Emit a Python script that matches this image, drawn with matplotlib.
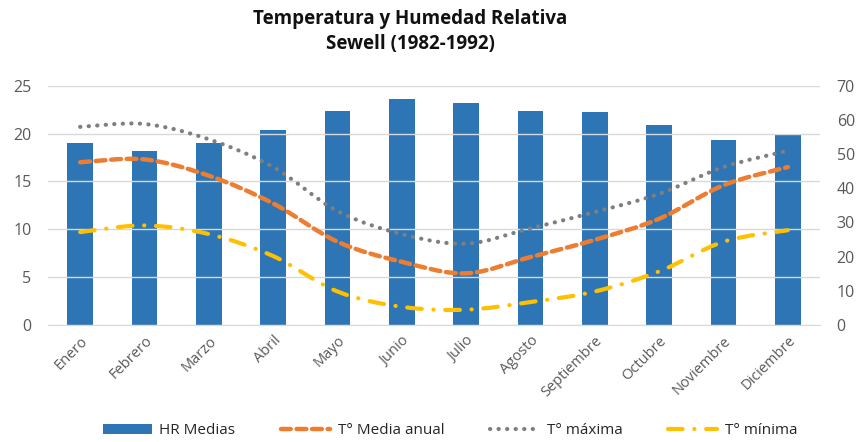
import matplotlib
matplotlib.use("Agg")
import matplotlib.pyplot as plt
import numpy as np
from matplotlib.path import Path
from matplotlib.patches import PathPatch, Patch
from matplotlib.lines import Line2D

meses = ["Enero", "Febrero", "Marzo", "Abril", "Mayo", "Junio", "Julio",
         "Agosto", "Septiembre", "Octubre", "Noviembre", "Diciembre"]
hr_medias = [53.2, 50.9, 53.2, 57.0, 62.6, 66.0, 64.8, 62.6, 62.2, 58.5, 54.2, 55.5]
t_media = [17.0, 17.3, 15.6, 12.7, 8.7, 6.6, 5.4, 7.1, 8.9, 11.1, 14.6, 16.5]
t_max = [20.7, 21.0, 19.4, 16.5, 11.9, 9.5, 8.5, 10.1, 11.8, 13.7, 16.5, 18.2]
t_min = [9.7, 10.4, 9.5, 7.2, 3.5, 1.9, 1.6, 2.4, 3.5, 5.6, 8.7, 9.9]

plt.rcParams['font.family'] = ['Open Sans', 'DejaVu Sans']

BLUE = "#2E75B6"
ORANGE = "#ED7D31"
GRAY = "#7F7F7F"
YELLOW = "#FFC000"
TXT = "#595959"

fig = plt.figure(figsize=(8.56, 4.42), dpi=100)
ax = fig.add_axes([48/856, 1-325/442, (820-48)/856, (325-85.7)/442])
ax2 = ax.twinx()

x = np.arange(len(meses))

# bars on secondary axis
ax2.bar(x, hr_medias, width=0.4, color=BLUE, zorder=2)
ax2.set_ylim(0, 70)
ax2.set_yticks(range(0, 71, 10))

ax.set_ylim(0, 25)
ax.set_yticks(range(0, 26, 5))
ax.set_xlim(-0.5, 11.5)

# gridlines
ax.yaxis.grid(True, color="#D9D9D9", linewidth=1)
ax.set_axisbelow(True)

def smooth_path(xs, ys):
    pts = np.column_stack([xs, ys]).astype(float)
    n = len(pts)
    verts = [pts[0]]
    codes = [Path.MOVETO]
    for i in range(n - 1):
        p0 = pts[i - 1] if i > 0 else pts[i]
        p1 = pts[i]
        p2 = pts[i + 1]
        p3 = pts[i + 2] if i + 2 < n else pts[i + 1]
        c1 = p1 + (p2 - p0) / 6.0
        c2 = p2 - (p3 - p1) / 6.0
        verts += [c1, c2, p2]
        codes += [Path.CURVE4] * 3
    return Path(verts, codes)

ax.set_zorder(ax2.get_zorder() + 1)
ax.patch.set_visible(False)
ax2.yaxis.grid(False)

styles = [
    (t_media, ORANGE, 3.2, (0, (2.2, 1.3)), 'round'),
    (t_max, GRAY, 3.0, (0, (0.05, 2.0)), 'round'),
    (t_min, YELLOW, 3.0, (0, (3.5, 2.8, 0.05, 2.8)), 'round'),
]
for ys, col, lw, ls, cap in styles:
    pp = PathPatch(smooth_path(x, ys), facecolor='none', edgecolor=col,
                   linewidth=lw, linestyle=ls, capstyle=cap, zorder=3)
    ax.add_patch(pp)

for a in (ax, ax2):
    for s in a.spines.values():
        s.set_visible(False)
    a.tick_params(axis='both', length=0, colors=TXT, labelsize=11.5)
ax.spines['bottom'].set_visible(True)
ax.spines['bottom'].set_color("#D9D9D9")
ax.set_xticks(x)
ax.set_xticklabels(meses, rotation=45, ha='right', rotation_mode='anchor',
                   fontsize=10.5, color=TXT)
ax.tick_params(axis='x', pad=6)
ax.tick_params(axis='y', pad=12)
ax2.tick_params(axis='y', pad=12)

fig.text(410/856, 1-19/442, "Temperatura y Humedad Relativa", ha='center', va='center',
         fontsize=13.5, fontweight='bold', color="#111111")
fig.text(410/856, 1-44/442, "Sewell (1982-1992)", ha='center', va='center',
         fontsize=13.5, fontweight='bold', color="#111111")

handles = [
    Patch(facecolor=BLUE),
    Line2D([], [], color=ORANGE, linewidth=3.2, linestyle=(0, (2.2, 1.3)), dash_capstyle='round'),
    Line2D([], [], color=GRAY, linewidth=3.0, linestyle=(0, (0.05, 2.0)), dash_capstyle='round'),
    Line2D([], [], color=YELLOW, linewidth=3.0, linestyle=(0, (3.5, 2.8, 0.05, 2.8)), dash_capstyle='round'),
]
labels = ["HR Medias", "T° Media anual", "T° máxima", "T° mínima"]
leg = fig.legend(handles, labels, loc='center', bbox_to_anchor=(450/856, 1-431/442),
                 ncol=4, frameon=False, fontsize=11, handlelength=3.2,
                 handleheight=0.6, columnspacing=3.0, handletextpad=0.5)
for t in leg.get_texts():
    t.set_color("#262626")

fig.savefig("out.png", dpi=100)
